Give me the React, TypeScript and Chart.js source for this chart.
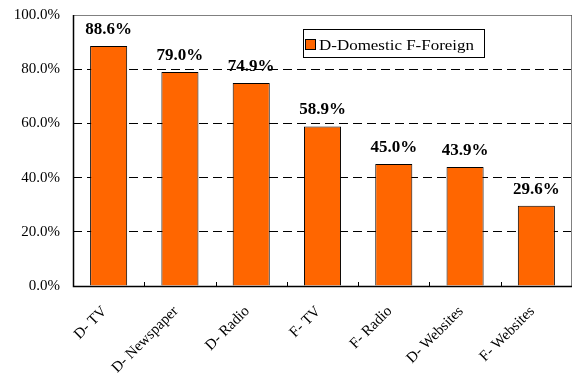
import React, { useEffect, useRef } from "react";
import { Chart, registerables } from "chart.js";

Chart.register(...registerables);

const categories = ["D- TV", "D- Newspaper", "D- Radio", "F- TV", "F- Radio", "D- Websites", "F- Websites"];
const values = [88.6, 79.0, 74.9, 58.9, 45.0, 43.9, 29.6];
const yTickValues = [0, 20, 40, 60, 80, 100];
const legendLabel = "D-Domestic F-Foreign";

const SERIF = "'Liberation Serif', 'Times New Roman', serif";
const BAR_COLOR = "#FF6600";

const decoPlugin = {
  id: "deco",
  afterDatasetsDraw(chart: any) {
    const { ctx, chartArea: a, scales } = chart;
    const x = scales.x;
    ctx.save();

    // top/right frame
    ctx.strokeStyle = "#808080";
    ctx.lineWidth = 1;
    ctx.beginPath();
    ctx.moveTo(a.left, a.top + 0.5);
    ctx.lineTo(a.right - 0.5, a.top + 0.5);
    ctx.lineTo(a.right - 0.5, a.bottom);
    ctx.stroke();

    // axes
    ctx.strokeStyle = "#000";
    ctx.lineWidth = 1.5;
    ctx.beginPath();
    ctx.moveTo(a.left + 0.5, a.top);
    ctx.lineTo(a.left + 0.5, a.bottom + 0.5);
    ctx.lineTo(a.right, a.bottom + 0.5);
    ctx.stroke();

    // x category boundary ticks (inward)
    ctx.lineWidth = 1;
    ctx.beginPath();
    for (let i = 1; i < categories.length; i++) {
      const bx = Math.round((x.getPixelForValue(i - 1) + x.getPixelForValue(i)) / 2) + 0.5;
      ctx.moveTo(bx, a.bottom);
      ctx.lineTo(bx, a.bottom - 4);
    }
    ctx.stroke();

    // data labels
    const meta = chart.getDatasetMeta(0);
    ctx.fillStyle = "#000";
    ctx.font = `bold 17px ${SERIF}`;
    ctx.textAlign = "center";
    ctx.textBaseline = "alphabetic";
    meta.data.forEach((bar: any, i: number) => {
      ctx.fillText(`${values[i].toFixed(1)}%`, bar.x, bar.y - 12);
    });

    // x labels rotated
    ctx.font = `15px ${SERIF}`;
    ctx.textAlign = "right";
    ctx.textBaseline = "middle";
    categories.forEach((c, i) => {
      const px = x.getPixelForValue(i);
      ctx.save();
      ctx.translate(px - 4, a.bottom + 23);
      ctx.rotate(-Math.PI / 4);
      ctx.fillText(c, 0, 0);
      ctx.restore();
    });

    // legend
    const lx = a.left + 230;
    const ly = a.top + 14;
    ctx.lineWidth = 1;
    ctx.strokeStyle = "#000";
    ctx.strokeRect(lx + 0.5, ly + 0.5, 181, 28);
    ctx.fillStyle = BAR_COLOR;
    ctx.fillRect(lx + 2.5, ly + 10.5, 10, 10);
    ctx.strokeRect(lx + 2.5, ly + 10.5, 10, 10);
    ctx.fillStyle = "#000";
    ctx.font = `14px ${SERIF}`;
    ctx.textAlign = "left";
    ctx.textBaseline = "alphabetic";
    const w = ctx.measureText(legendLabel).width;
    ctx.save();
    ctx.translate(lx + 16, ly + 20.5);
    ctx.scale(155 / w, 1);
    ctx.fillText(legendLabel, 0, 0);
    ctx.restore();

    ctx.restore();
  },
};

export default function App() {
  const ref = useRef<HTMLCanvasElement | null>(null);

  useEffect(() => {
    if (!ref.current) return;
    const chart = new Chart(ref.current, {
      type: "bar",
      data: {
        labels: categories,
        datasets: [
          {
            label: legendLabel,
            data: values,
            backgroundColor: BAR_COLOR,
            borderColor: "#000",
            borderWidth: 1,
            barPercentage: 0.52,
            categoryPercentage: 1,
          },
        ],
      },
      options: {
        animation: false,
        responsive: false,
        devicePixelRatio: 1,
        layout: { padding: { top: 15, right: 1, left: 0, bottom: 0 } },
        plugins: {
          legend: { display: false },
          tooltip: { enabled: false },
        },
        scales: {
          x: {
            grid: { display: false },
            border: { display: false },
            ticks: { display: false },
            afterFit: (s: any) => {
              s.height = 90;
              s.paddingLeft = 0;
              s.paddingRight = 0;
            },
          },
          y: {
            min: 0,
            max: 100,
            afterBuildTicks: (s: any) => {
              s.ticks = yTickValues.map((v) => ({ value: v }));
            },
            afterFit: (s: any) => {
              s.width = 73;
              s.paddingTop = 0;
              s.paddingBottom = 0;
            },
            border: { display: false, dash: [9, 5] },
            grid: {
              color: "#000",
              lineWidth: 1,
              drawTicks: false,
            },
            ticks: {
              padding: 13,
              color: "#000",
              font: { family: SERIF, size: 15 },
              callback: (v: any) => `${Number(v).toFixed(1)}%`,
            },
          },
        },
      },
      plugins: [decoPlugin],
    } as any);
    return () => chart.destroy();
  }, []);

  return (
    <div style={{ position: "absolute", left: 0, top: 0, width: 573, height: 376, background: "#fff" }}>
      <canvas ref={ref} width={573} height={376} style={{ width: 573, height: 376 }} />
    </div>
  );
}
